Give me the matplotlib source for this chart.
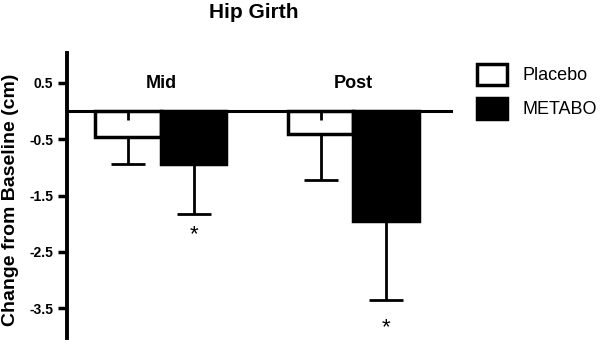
import matplotlib
matplotlib.use('Agg')
import matplotlib.pyplot as plt
from matplotlib.patches import Patch
import numpy as np

plt.rcParams['font.family'] = ['Liberation Sans', 'DejaVu Sans']

# Hip girth change from baseline (cm)
groups = ['Mid', 'Post']
placebo = [-0.46, -0.41]
placebo_err = [0.48, 0.82]
metabo = [-0.94, -1.95]
metabo_err = [0.89, 1.41]
star_y = [-2.2, -3.85]          # significance markers under METABO bars
yticks = [0.5, -0.5, -1.5, -2.5, -3.5]

fig = plt.figure(figsize=(6, 3.52), dpi=100)
ax = fig.add_axes([67/600, 14/352, 386/600, 285/352])

x = np.arange(len(groups))
w = 0.34
stub = 0.16

# error bars first (downward only), bars drawn on top
ax.errorbar(x - w/2, placebo, yerr=[placebo_err, [0, 0]], fmt='none',
            ecolor='black', elinewidth=2, capsize=12, capthick=2, zorder=1)
ax.errorbar(x + w/2, metabo, yerr=[metabo_err, [0, 0]], fmt='none',
            ecolor='black', elinewidth=2, capsize=12, capthick=2, zorder=1)
ax.bar(x - w/2, placebo, w, color='white', edgecolor='black', linewidth=2.5,
       label='Placebo', zorder=2)
ax.bar(x + w/2, metabo, w, color='black', edgecolor='black', linewidth=2.5,
       label='METABO', zorder=2)
ax.vlines(x - w/2, 0, -stub, color='black', linewidth=2, zorder=3)
ax.axhline(0, color='black', linewidth=2.2, zorder=4)

for xi, g in zip(x, groups):
    ax.text(xi, 0.48, g, ha='center', va='center', fontsize=13, fontweight='bold')
for xi, sy in zip(x + w/2, star_y):
    ax.text(xi, sy, '*', ha='center', va='center', fontsize=16)

ax.set_xlim(-0.488, 1.517)
ax.set_ylim(-4.03, 1.03)
ax.set_xticks([])
ax.set_yticks(yticks)
ax.set_yticklabels([f'{t:.1f}' for t in yticks], fontsize=10, fontweight='bold')
ax.tick_params(axis='y', length=6.5, width=2.5, pad=3.5)
for s in ['top', 'right', 'bottom']:
    ax.spines[s].set_visible(False)
ax.spines['left'].set_linewidth(2.8)
ax.set_ylabel('Change from Baseline (cm)', fontsize=14, fontweight='bold')
ax.yaxis.set_label_coords(-0.125, 0.485)

fig.text(254/600, 1 - 13/352, 'Hip Girth', ha='center', va='center',
         fontsize=15, fontweight='bold')

handles = [Patch(facecolor='white', edgecolor='black', linewidth=2.5, label='Placebo'),
           Patch(facecolor='black', edgecolor='black', linewidth=2.5, label='METABO')]
fig.legend(handles=handles, loc='upper left', bbox_to_anchor=(477/600, 1 - 64/352),
           borderpad=0, borderaxespad=0, handlelength=1.67, handleheight=1.41,
           labelspacing=0.7, handletextpad=0.83, frameon=False, fontsize=13)

plt.savefig('out.png', dpi=100)
plt.close()
